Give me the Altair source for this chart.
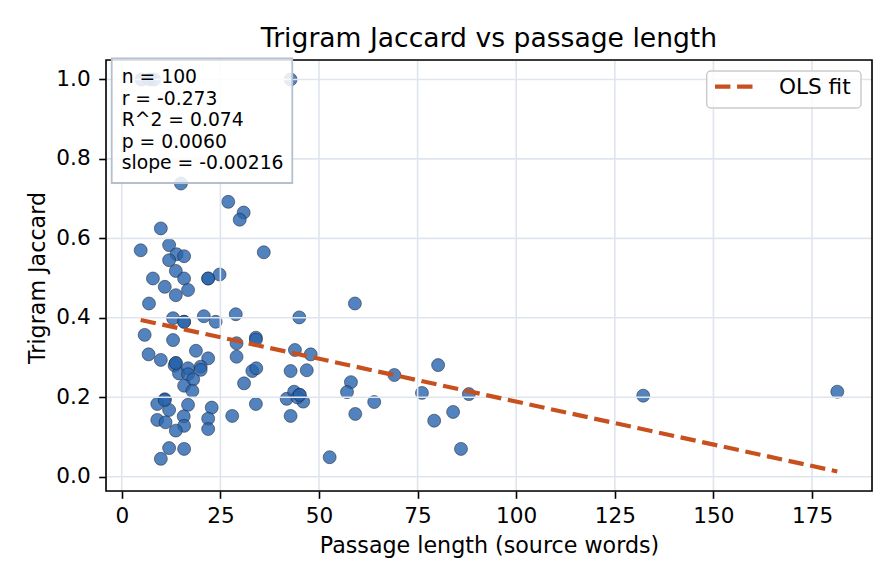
import altair as alt
import pandas as pd

# ---- data ----
passage_len = [
    15.0, 27.0, 30.9, 29.9, 9.9, 4.8, 12.0, 13.9, 15.8, 12.0,
    36.0, 13.7, 7.9, 15.8, 21.9, 24.8, 10.9, 16.8, 13.7, 6.9,
    59.1, 13.0, 15.8, 20.8, 23.8, 28.9, 45.0, 42.8, 5.8, 13.0,
    6.8, 9.9, 13.7, 13.4, 14.5, 16.8, 16.8, 18.8, 21.9, 20.0,
    20.0, 18.1, 15.8, 17.9, 10.9, 9.0, 12.0, 16.8, 22.8, 9.0,
    11.1, 15.7, 15.8, 13.7, 21.9, 21.9, 12.0, 15.8, 9.9, 29.1,
    29.1, 34.0, 34.0, 33.1, 34.1, 31.0, 34.0, 28.0, 43.9, 47.9,
    42.8, 46.9, 41.8, 43.7, 45.1, 46.0, 44.5, 42.8, 52.7, 58.1,
    57.1, 59.2, 64.0, 69.1, 76.1, 80.2, 79.2, 84.0, 88.0, 86.0,
    132.2, 181.4, 5.0, 7.0, 8.2, 13.7, 10.9, 45.1, 15.8, 21.9,
]
trigram_jaccard = [
    0.738, 0.692, 0.665, 0.647, 0.625, 0.570, 0.583, 0.560, 0.555, 0.545,
    0.565, 0.518, 0.499, 0.499, 0.499, 0.509, 0.478, 0.470, 0.457, 0.436,
    0.436, 0.399, 0.390, 0.404, 0.390, 0.409, 0.401, 1.000, 0.357, 0.344,
    0.308, 0.294, 0.286, 0.280, 0.260, 0.273, 0.258, 0.317, 0.298, 0.277,
    0.269, 0.245, 0.229, 0.216, 0.195, 0.183, 0.168, 0.181, 0.174, 0.143,
    0.137, 0.152, 0.128, 0.116, 0.146, 0.120, 0.072, 0.070, 0.045, 0.336,
    0.302, 0.350, 0.345, 0.266, 0.273, 0.235, 0.183, 0.153, 0.319, 0.308,
    0.266, 0.268, 0.196, 0.214, 0.206, 0.189, 0.200, 0.153, 0.049, 0.238,
    0.213, 0.158, 0.188, 0.256, 0.211, 0.281, 0.141, 0.163, 0.208, 0.070,
    0.204, 0.214, 1.000, 1.000, 1.000, 0.286, 0.193, 0.206, 0.390, 0.499,
]
fit_slope = -0.00216
fit_intercept = 0.405
stats_lines = ["n = 100", "r = -0.273", "R^2 = 0.074", "p = 0.0060", "slope = -0.00216"]
x_ticks = [0, 25, 50, 75, 100, 125, 150, 175]
y_ticks = [0.0, 0.2, 0.4, 0.6, 0.8, 1.0]

FONT = "DejaVu Sans"
W, H = 766, 431
TICK_FS = 21.6
LABEL_FS = 22.2

pts = pd.DataFrame({"x": passage_len, "y": trigram_jaccard})
xmin, xmax = min(passage_len), max(passage_len)
fit = pd.DataFrame({"x": [xmin, xmax],
                    "y": [fit_intercept + fit_slope * xmin, fit_intercept + fit_slope * xmax]})

xscale = alt.Scale(domain=[-4.0, 190.2], nice=False, zero=False)
yscale = alt.Scale(domain=[-0.036, 1.049], nice=False, zero=False)

xaxis = alt.Axis(
    values=x_ticks, grid=False, domain=False, ticks=True, tickColor="black", tickSize=7.3,
    tickWidth=1.6, labelFontSize=TICK_FS, labelColor="black", labelFont=FONT,
    labelBaseline="alphabetic", labelPadding=24.3, labelFlush=False,
    title="Passage length (source words)", titleFontSize=LABEL_FS, titleFont=FONT,
    titleFontWeight="normal", titleColor="black", titleX=W / 2, titleY=61,
    titleBaseline="alphabetic", titleAlign="center")
yaxis = alt.Axis(
    values=y_ticks, format=".1f", grid=False, domain=False, ticks=True, tickColor="black",
    tickSize=7.3, tickWidth=1.6, labelFontSize=TICK_FS, labelColor="black", labelFont=FONT,
    labelPadding=8.5, labelBaseline="middle", labelFlush=False,
    title="Trigram Jaccard", titleFontSize=LABEL_FS, titleFont=FONT, titleFontWeight="normal",
    titleColor="black", titleX=-62, titleY=H / 2 + 2, titleBaseline="alphabetic",
    titleAlign="center", titleAngle=270)

points = alt.Chart(pts).mark_circle(
    size=168, fill="#2864ae", fillOpacity=0.8, stroke="#1b2433", strokeWidth=0.6, strokeOpacity=0.9
).encode(
    x=alt.X("x:Q", scale=xscale, axis=xaxis),
    y=alt.Y("y:Q", scale=yscale, axis=yaxis),
)

gx = alt.Chart(pd.DataFrame({"x": x_ticks})).mark_rule(color="#dfe5ee", strokeWidth=1.6).encode(
    x=alt.X("x:Q", scale=xscale, axis=xaxis))
gy = alt.Chart(pd.DataFrame({"y": y_ticks})).mark_rule(color="#dfe5ee", strokeWidth=1.6).encode(
    y=alt.Y("y:Q", scale=yscale, axis=yaxis))

line = alt.Chart(fit).mark_line(color="#c8501e", strokeWidth=4.2, strokeDash=[15.4, 6.7]).encode(
    x=alt.X("x:Q", scale=xscale, axis=xaxis), y=alt.Y("y:Q", scale=yscale, axis=yaxis))

frame = alt.Chart(pd.DataFrame({"a": [0]})).mark_rect(
    fill="transparent", stroke="black", strokeWidth=1.6
).encode(x=alt.value(0), x2=alt.value(W), y=alt.value(0), y2=alt.value(H))

box = alt.Chart(pd.DataFrame({"a": [0]})).mark_rect(
    fill="white", fillOpacity=0.85, stroke="#b4c0d0", strokeWidth=1.8
).encode(x=alt.value(5.7), x2=alt.value(186.3), y=alt.value(-1.7), y2=alt.value(123))

stat_layers = []
for i, s in enumerate(stats_lines):
    stat_layers.append(
        alt.Chart(pd.DataFrame({"t": [s]})).mark_text(
            align="left", baseline="alphabetic", fontSize=18.75, font=FONT, color="black"
        ).encode(text="t:N", x=alt.value(15.7), y=alt.value(23.3 + 21.5 * i))
    )

leg_box = alt.Chart(pd.DataFrame({"a": [0]})).mark_rect(
    fill="white", fillOpacity=0.8, stroke="#cccccc", strokeWidth=1.5, cornerRadius=4
).encode(x=alt.value(600.7), x2=alt.value(755), y=alt.value(11), y2=alt.value(48))
leg_line = alt.Chart(pd.DataFrame({"a": [0]})).mark_rule(
    color="#c8501e", strokeWidth=4.2, strokeDash=[15.4, 6.7]
).encode(x=alt.value(609), x2=alt.value(647), y=alt.value(26.7))
leg_text = alt.Chart(pd.DataFrame({"t": ["OLS fit"]})).mark_text(
    align="left", baseline="middle", fontSize=21.6, font=FONT, color="black"
).encode(text="t:N", x=alt.value(673), y=alt.value(27.5))

title = alt.Chart(pd.DataFrame({"t": ["Trigram Jaccard vs passage length"]})).mark_text(
    align="center", baseline="alphabetic", fontSize=26.6, font=FONT, color="black"
).encode(text="t:N", x=alt.value(W / 2), y=alt.value(-13.3))

chart = alt.layer(
    points, gx, gy, line, frame, box, *stat_layers, leg_box, leg_line, leg_text, title
).properties(
    width=W, height=H,
    padding={"left": 106, "top": 60, "right": 24, "bottom": 93},
    autosize=alt.AutoSizeParams(type="none"),
).configure_view(
    stroke=None
).configure(font=FONT, background="white")

chart.save("out.html", embed_options={"renderer": "svg", "actions": False})
